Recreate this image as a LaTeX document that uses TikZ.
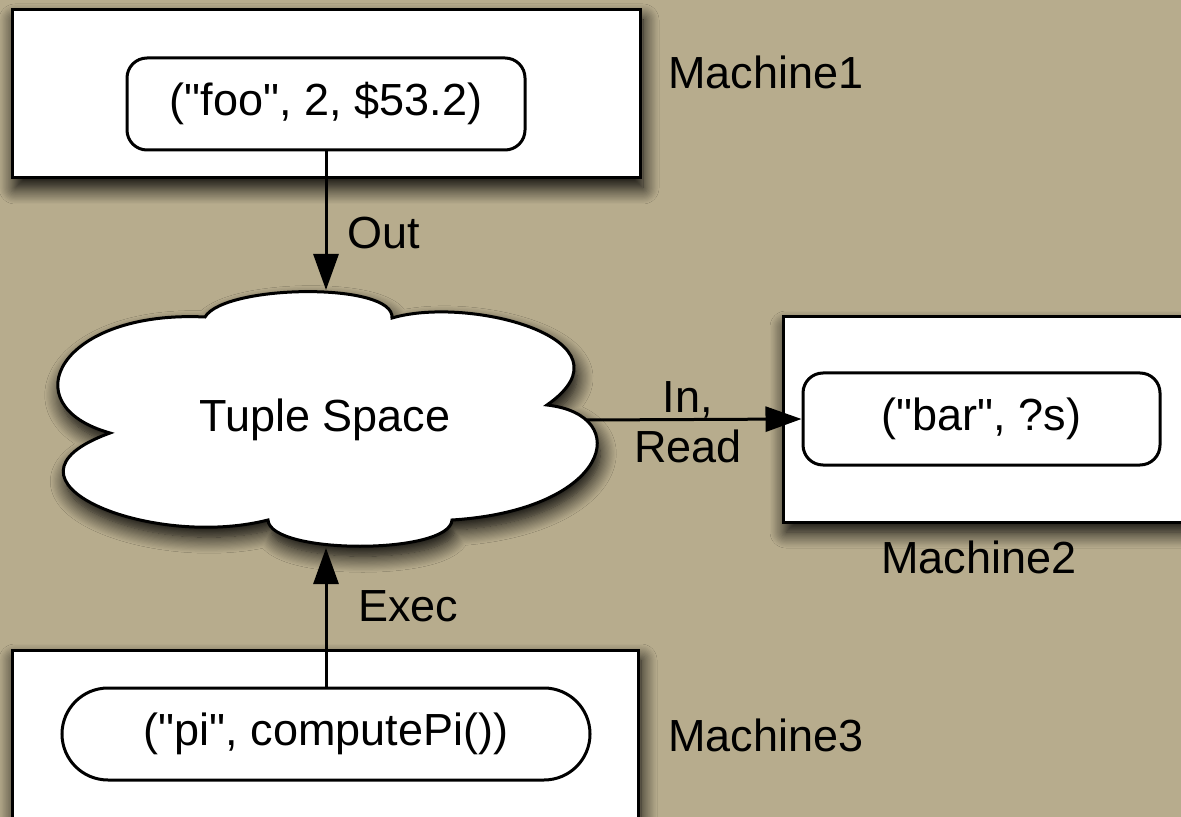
\documentclass[tikz,border=0pt]{standalone}
\usepackage{fontspec}
\setmainfont{Liberation Sans}[Ligatures=TeXOff]
\usetikzlibrary{arrows.meta,shapes.misc,shadows.blur}
\definecolor{paper}{HTML}{B7AC8D}
\begin{document}
\begin{tikzpicture}[x=0.5pt,y=-0.5pt,
  font=\fontsize{22.5}{25}\selectfont,
  softshadow/.style={blur shadow={shadow xshift=1.5pt,shadow yshift=-5pt,
    shadow blur radius=8pt,shadow blur steps=14,shadow opacity=100}},
  machine/.style={draw=black,line width=1.5pt,fill=white,rectangle,inner sep=0pt,softshadow},
  tuplebox/.style={draw=black,line width=1.5pt,fill=white,rounded corners=10pt,
    inner sep=0pt,minimum height=46pt},
  conn/.style={draw=black,line width=1.5pt,
    -{Triangle[length=18pt,width=12.5pt,fill=black,color=black]}},
  lbl/.style={inner sep=0pt,align=center}
]
\useasboundingbox (0,0) rectangle (1181,817);
\fill[paper] (0,0) rectangle (1181,817);
\clip (0,0) rectangle (1181,817);

% machines
\node[machine,minimum width=314pt,minimum height=84pt] (m1) at (326,94) {};
\node[machine,minimum width=203.5pt,minimum height=102.5pt] (m2) at (986.5,419.5) {};
\node[machine,minimum width=313pt,minimum height=90pt] (m3) at (325,740) {};

% tuples held by each machine
\node[tuplebox,minimum width=199pt] (t1) at (326,104) {("foo", 2, \$53.2)};
\node[tuplebox,minimum width=178.5pt] (t2) at (981.5,419) {("bar", ?s)};
\node[tuplebox,rounded rectangle,rounded corners=0pt,minimum width=264pt] (t3) at (326,734) {("pi", computePi())};

% the tuple space cloud
\path[draw=black,line width=1.5pt,fill=white,softshadow]
  (205,317) .. controls (225,284) and (395,282) .. (392,318)
  .. controls (470,295) and (640,340) .. (547,405)
  .. controls (635,415) and (610,510) .. (452,520)
  .. controls (450,555) and (270,555) .. (268,520)
  .. controls (150,550) and (-20,480) .. (110,433)
  .. controls (10,405) and (60,310) .. cycle;
\node[lbl] (ts) at (325,420) {Tuple Space};
\coordinate (tstop) at (326,290);
\coordinate (tsbot) at (326,548);
\coordinate (tsright) at (586,420);

% machine names
\node[lbl,anchor=west] (n1) at (668,72) {Machine1};
\node[lbl] (n2) at (979,557) {Machine2};
\node[lbl,anchor=west] (n3) at (668,735) {Machine3};

% operations
\draw[conn] (t1.south) -- (tstop);
\draw[conn] (tsright) -- (t2.west);
\draw[conn] (t3.north) -- (tsbot);
\node[lbl,anchor=west] (out) at (347,233) {Out};
\node[lbl] (inread) at (688,422) {In,\\Read};
\node[lbl,anchor=west] (exec) at (358,606) {Exec};
\end{tikzpicture}
\end{document}
